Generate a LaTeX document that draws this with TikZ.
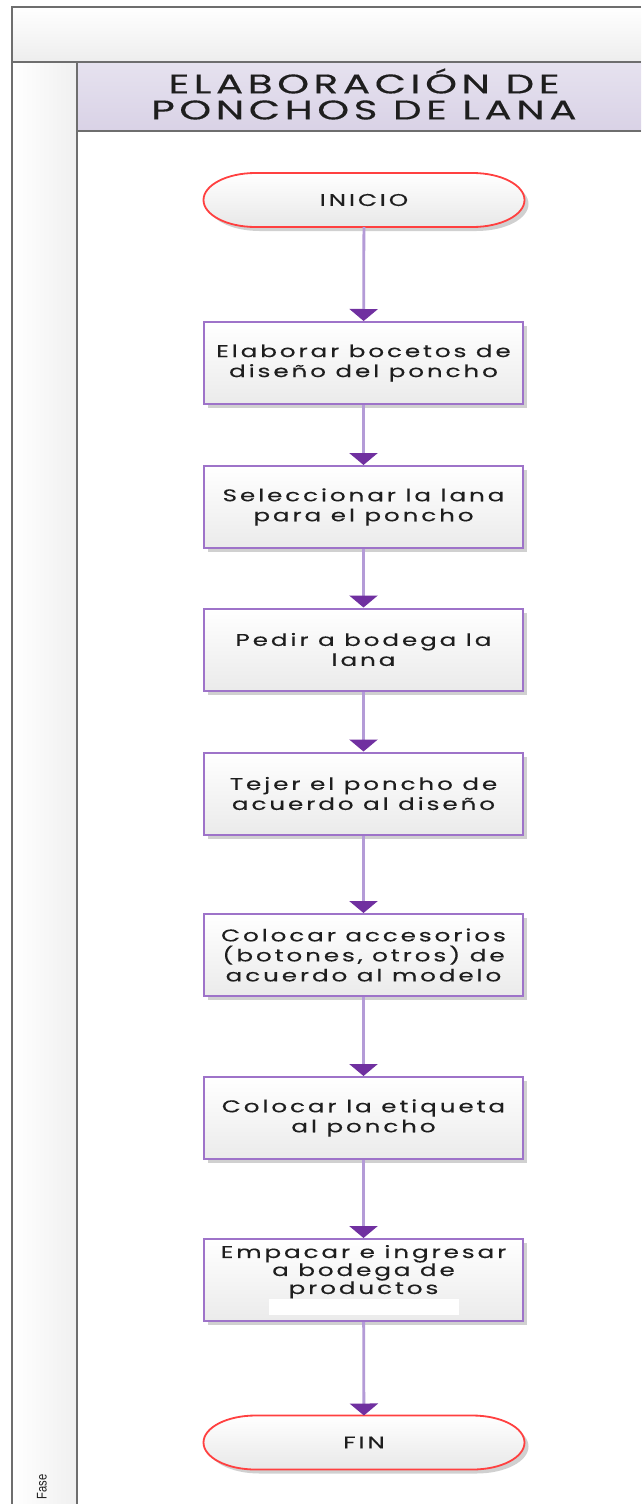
\documentclass[tikz,border=0pt]{standalone}
\usepackage{fontspec}
\setmainfont{Poppins}
\newfontfamily\boxfont[LetterSpace=17,FakeStretch=1.45,FakeBold=0.3]{Poppins}
\newfontfamily\titlefont[LetterSpace=17,FakeStretch=1.5,FakeBold=0.3]{Poppins}
\newfontfamily\lanefont{Liberation Sans}
\usetikzlibrary{arrows.meta,shadows}

\definecolor{framegray}{HTML}{6E6E6E}
\definecolor{titletop}{HTML}{E6E2EF}
\definecolor{titlebot}{HTML}{D9D2E6}
\definecolor{boxviolet}{HTML}{9E73C9}
\definecolor{lineviolet}{HTML}{B49BD7}
\definecolor{headviolet}{HTML}{7030A0}
\definecolor{termred}{HTML}{FF4040}
\definecolor{inkgray}{HTML}{1E1E1E}

\pgfdeclarelayer{back}
\pgfdeclarelayer{mid}
\pgfsetlayers{back,mid,main}

% outline of a start/end terminal with elliptical ends around node #1
\newcommand\termoutline[1]{%
  \path[termshape] ([xshift=52pt]#1.north west) -- ([xshift=-52pt]#1.north east)
    arc[start angle=90,end angle=-90,x radius=52pt,y radius=27pt]
    -- ([xshift=52pt]#1.south west)
    arc[start angle=270,end angle=90,x radius=52pt,y radius=27pt] -- cycle;}

\begin{document}
\begin{tikzpicture}[x=1pt,y=-1pt,
  frame/.style={draw=framegray,line width=2pt},
  termnode/.style={minimum width=321pt,minimum height=54pt,outer sep=0pt,
    text=inkgray,font=\boxfont\fontsize{17}{20}\selectfont},
  termshape/.style={draw=termred,line width=1.8pt,top color=white,bottom color=black!9,
    drop shadow={shadow xshift=4pt,shadow yshift=-4pt,opacity=0.3,fill=black!60}},
  stepbox/.style={rectangle,draw=boxviolet,line width=2pt,top color=white,bottom color=black!8,
    minimum width=319pt,minimum height=82pt,align=center,text=inkgray,
    font=\boxfont\fontsize{17}{20}\selectfont,
    drop shadow={shadow xshift=4pt,shadow yshift=-4pt,opacity=0.3,fill=black!60}},
  flowline/.style={draw=lineviolet,line width=2.8pt,
    -{Triangle[width=28pt,length=12pt,color=headviolet]}},
  titletext/.style={align=center,text=inkgray,font=\titlefont\fontsize{27}{26}\selectfont},
  lanelabel/.style={text=inkgray,font=\lanefont\fontsize{14}{14}\selectfont}
]
\useasboundingbox (0,0) rectangle (641,1504);

% pool frame, header band, lane column and title band
\begin{pgfonlayer}{back}
  \fill[white] (0,0) rectangle (641,1504);
  \path[top color=white,bottom color=black!7] (12,7) rectangle (641,62);
  \path[left color=white,right color=black!6] (12,62) rectangle (77,1504);
  \path[top color=titletop,bottom color=titlebot] (77,62) rectangle (641,131);
  \draw[frame] (641,7) -- (12,7) -- (12,1504);
  \draw[frame] (12,62) -- (641,62);
  \draw[frame] (77,62) -- (77,1504);
  \draw[frame] (77,131) -- (641,131);
\end{pgfonlayer}

\node[titletext] (title) at (364,94) {ELABORACIÓN DE\\PONCHOS DE LANA};
\node[lanelabel,rotate=90,xscale=0.8] (fase) at (42,1487) {Fase};

% process steps
\node[termnode] (start) at (364,200) {INICIO};
\node[stepbox] (b1) at (363.5,363) {Elaborar bocetos de\\diseño del poncho};
\node[stepbox] (b2) at (363.5,507) {Seleccionar la lana\\para el poncho};
\node[stepbox] (b3) at (363.5,649.5) {Pedir a bodega la\\lana};
\node[stepbox] (b4) at (363.5,793.5) {Tejer el poncho de\\acuerdo al diseño};
\node[stepbox] (b5) at (363.5,955) {Colocar accesorios\\(botones, otros) de\\acuerdo al modelo};
\node[stepbox] (b6) at (363.5,1118) {Colocar la etiqueta\\al poncho};
\node[stepbox,font=\boxfont\fontsize{17}{18}\selectfont] (b7) at (363.5,1280)
  {Empacar e ingresar\\a bodega de\\productos\\[-1pt]\textcolor{white}{\rule[-4pt]{190pt}{16pt}}};
\node[termnode] (fin) at (364,1442.5) {FIN};

\begin{pgfonlayer}{mid}
  \termoutline{start}
  \termoutline{fin}
\end{pgfonlayer}

% connectors
\draw[flowline] (start) -- (b1);
\draw[flowline] (b1) -- (b2);
\draw[flowline] (b2) -- (b3);
\draw[flowline] (b3) -- (b4);
\draw[flowline] (b4) -- (b5);
\draw[flowline] (b5) -- (b6);
\draw[flowline] (b6) -- (b7);
\draw[flowline] (b7) -- (fin);
\end{tikzpicture}
\end{document}
